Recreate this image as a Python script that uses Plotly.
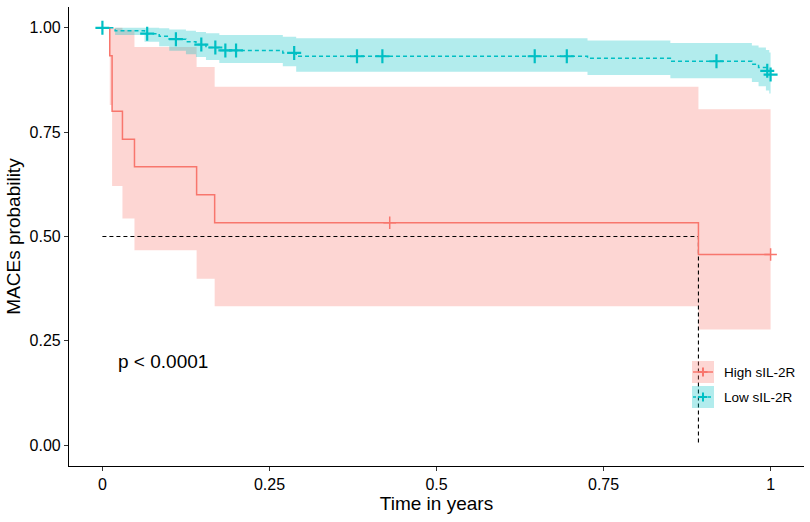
import plotly.graph_objects as go

# ---------------- data ----------------
# High sIL-2R group: step times, survival, CI upper, CI lower
high_t = [0.0, 0.011, 0.0145, 0.030, 0.048, 0.141, 0.168, 0.892]
high_s = [1.000, 0.933, 0.800, 0.733, 0.667, 0.600, 0.533, 0.457]
high_u = [1.000, 1.000, 1.000, 0.995, 0.954, 0.906, 0.859, 0.805]
high_l = [1.000, 0.815, 0.621, 0.543, 0.467, 0.399, 0.333, 0.277]
high_end = 1.0
high_cens_t = [0.430, 1.000]
high_cens_s = [0.533, 0.457]

# Low sIL-2R group
low_t = [0.0, 0.019, 0.063, 0.085, 0.100, 0.125, 0.140, 0.155, 0.175, 0.270,
         0.290, 0.726, 0.850, 0.972, 0.982, 0.993, 0.998]
low_s = [1.000, 0.993, 0.986, 0.980, 0.973, 0.967, 0.960, 0.953, 0.946, 0.940,
         0.932, 0.927, 0.920, 0.913, 0.905, 0.897, 0.888]
low_u = [1.000, 1.000, 1.000, 0.999, 0.996, 0.993, 0.990, 0.987, 0.983, 0.979,
         0.975, 0.970, 0.964, 0.958, 0.953, 0.947, 0.941]
low_l = [1.000, 0.983, 0.967, 0.956, 0.945, 0.937, 0.930, 0.923, 0.916, 0.908,
         0.895, 0.887, 0.879, 0.870, 0.860, 0.850, 0.843]
low_end = 1.0
low_cens_t = [0.000, 0.067, 0.110, 0.148, 0.169, 0.184, 0.200, 0.287, 0.381,
              0.419, 0.647, 0.695, 0.919, 0.995, 1.000]
low_cens_s = [1.000, 0.986, 0.973, 0.960, 0.953, 0.946, 0.946, 0.940, 0.932,
              0.932, 0.932, 0.932, 0.920, 0.897, 0.888]

median_t = 0.892
median_s = 0.5

group_names = ["High sIL-2R", "Low sIL-2R"]
pval_text = "p < 0.0001"
x_ticks = [0, 0.25, 0.5, 0.75, 1]
x_ticklabels = ["0", "0.25", "0.5", "0.75", "1"]
y_ticks = [0, 0.25, 0.5, 0.75, 1]
y_ticklabels = ["0.00", "0.25", "0.50", "0.75", "1.00"]

# ---------------- style ----------------
RED = "#F8766D"
CYAN = "#00BFC4"
RED_FILL = "rgba(248,118,109,0.3)"
CYAN_FILL = "rgba(0,191,196,0.3)"
FONT = "Liberation Sans, Arial, sans-serif"
W, H = 810, 522
ML, MR, MT, MB = 69, 6, 7, 56

fig = go.Figure()


def add_band(t, u, l, end, fillcolor):
    xs = list(t) + [end]
    fig.add_trace(go.Scatter(x=xs, y=list(u) + [u[-1]], mode="lines",
                             line=dict(width=0, shape="hv"), showlegend=False,
                             hoverinfo="skip"))
    fig.add_trace(go.Scatter(x=xs, y=list(l) + [l[-1]], mode="lines",
                             line=dict(width=0, shape="hv"), fill="tonexty",
                             fillcolor=fillcolor, showlegend=False,
                             hoverinfo="skip"))


add_band(high_t, high_u, high_l, high_end, RED_FILL)
add_band(low_t, low_u, low_l, low_end, CYAN_FILL)

# median reference lines
fig.add_trace(go.Scatter(x=[0, median_t, median_t], y=[median_s, median_s, 0],
                         mode="lines", line=dict(color="black", width=1.1, dash="4px,3px"),
                         showlegend=False, hoverinfo="skip"))

# survival curves
fig.add_trace(go.Scatter(x=high_t + [high_end], y=high_s + [high_s[-1]], mode="lines",
                         line=dict(color=RED, width=1.5, shape="hv"),
                         name=group_names[0], showlegend=False))
fig.add_trace(go.Scatter(x=low_t + [low_end], y=low_s + [low_s[-1]], mode="lines",
                         line=dict(color=CYAN, width=1.5, shape="hv", dash="4px,3px"),
                         name=group_names[1], showlegend=False))

# censor marks
fig.add_trace(go.Scatter(x=high_cens_t, y=high_cens_s, mode="markers",
                         marker=dict(symbol="cross-thin", size=9,
                                     line=dict(color=RED, width=1.5)),
                         showlegend=False))
fig.add_trace(go.Scatter(x=low_cens_t, y=low_cens_s, mode="markers",
                         marker=dict(symbol="cross-thin", size=10,
                                     line=dict(color=CYAN, width=2.2)),
                         showlegend=False))

# p-value
fig.add_annotation(x=0.021, y=0.2, xref="x", yref="y", text=pval_text,
                   showarrow=False, xanchor="left", yanchor="middle",
                   font=dict(size=19, color="black", family=FONT))

# manual legend (keys inside the plot, bottom right)
pw = W - ML - MR
ph = H - MT - MB


def px(xp):
    return (xp - ML) / pw


def py(yp):
    return (H - MB - yp) / ph


key_x0, key_x1 = 692, 714
key_tops = [361, 386]
key_h = 22
for name, col, fcol, dash, top in zip(group_names, [RED, CYAN], [RED_FILL, CYAN_FILL],
                                       ["solid", "3px,2px"], key_tops):
    cy = top + key_h / 2
    cx = (key_x0 + key_x1) / 2
    fig.add_shape(type="rect", xref="paper", yref="paper",
                  x0=px(key_x0), x1=px(key_x1), y0=py(top + key_h), y1=py(top),
                  fillcolor=fcol, line=dict(width=0))
    fig.add_shape(type="line", xref="paper", yref="paper",
                  x0=px(key_x0 + 1), x1=px(key_x1 - 1), y0=py(cy), y1=py(cy),
                  line=dict(color=col, width=1.5, dash=dash))
    fig.add_shape(type="line", xref="paper", yref="paper",
                  x0=px(cx), x1=px(cx), y0=py(cy - 4.5), y1=py(cy + 4.5),
                  line=dict(color=col, width=2))
    fig.add_shape(type="line", xref="paper", yref="paper",
                  x0=px(cx - 4.5), x1=px(cx + 4.5), y0=py(cy), y1=py(cy),
                  line=dict(color=col, width=2))
    fig.add_annotation(x=px(key_x1 + 8), y=py(cy), xref="paper", yref="paper",
                       text=name, showarrow=False, xanchor="left", yanchor="middle",
                       font=dict(size=13.5, color="black", family=FONT))

axis_common = dict(showline=True, linecolor="black", linewidth=1.1, ticks="outside",
                   ticklen=4, tickwidth=1.1, tickcolor="#333333", showgrid=False,
                   zeroline=False, automargin=False,
                   tickfont=dict(size=16, color="black", family=FONT))

fig.update_layout(
    width=W, height=H,
    margin=dict(l=ML, r=MR, t=MT, b=MB),
    paper_bgcolor="white", plot_bgcolor="white",
    font=dict(family=FONT, color="black"),
    xaxis=dict(range=[-0.05, 1.05], tickvals=x_ticks, ticktext=x_ticklabels,
               title=dict(text="Time in years", font=dict(size=19, family=FONT), standoff=4),
               **axis_common),
    yaxis=dict(range=[-0.05, 1.05], tickvals=y_ticks, ticktext=y_ticklabels,
               title=dict(text="MACEs probability", font=dict(size=19, family=FONT), standoff=3),
               **axis_common),
    showlegend=False,
)

fig.write_html("out.html", config={"displayModeBar": False},
               post_script="document.body.style.margin='0px';")
